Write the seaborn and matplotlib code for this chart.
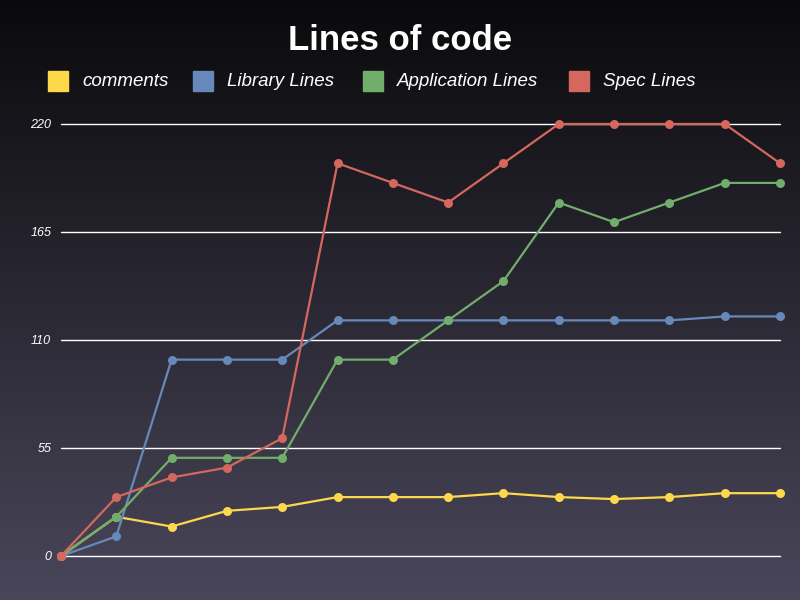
import numpy as np
import pandas as pd
import matplotlib
matplotlib.use("Agg")
import matplotlib.pyplot as plt
import seaborn as sb

sb.set_theme(style="dark")
plt.rcParams["font.family"] = ["Liberation Sans", "DejaVu Sans"]

# data
builds = list(range(14))
comments = [0, 20, 15, 23, 25, 30, 30, 30, 32, 30, 29, 30, 32, 32]
library_lines = [0, 10, 100, 100, 100, 120, 120, 120, 120, 120, 120, 120, 122, 122]
application_lines = [0, 20, 50, 50, 50, 100, 100, 120, 140, 180, 170, 180, 190, 190]
spec_lines = [0, 30, 40, 45, 60, 200, 190, 180, 200, 220, 220, 220, 220, 200]
series_names = ["comments", "Library Lines", "Application Lines", "Spec Lines"]
colors = ["#fdd84b", "#6789b9", "#71ae6b", "#d4685e"]
y_ticks = [0, 55, 110, 165, 220]

df = pd.DataFrame({
    "build": builds * 4,
    "lines": comments + library_lines + application_lines + spec_lines,
    "series": np.repeat(series_names, len(builds)),
})

fig = plt.figure(figsize=(8, 6), dpi=100)

# gradient background
bg = fig.add_axes([0, 0, 1, 1], zorder=-10)
grad = np.linspace(0, 1, 256).reshape(-1, 1)
top = np.array([0x0a, 0x0a, 0x0c]) / 255
bottom = np.array([0x4a, 0x46, 0x5a]) / 255
img = top + (bottom - top) * grad[:, :, None]
bg.imshow(img, aspect="auto", extent=[0, 1, 0, 1])
bg.set_axis_off()

ax = fig.add_axes([61 / 800, 44 / 600, 719 / 800, 432 / 600])
ax.set_facecolor("none")

sb.lineplot(
    data=df, x="build", y="lines", hue="series", hue_order=series_names,
    palette=colors, marker="o", markersize=6.5, markeredgewidth=0,
    linewidth=1.6, legend=False, ax=ax, clip_on=False,
)

ax.set_xlim(0, 13)
ax.set_ylim(0, 220)
ax.set_yticks(y_ticks)
ax.set_yticklabels([str(t) for t in y_ticks], color="white",
                   fontstyle="italic", fontsize=9)
ax.set_xticks([])
ax.tick_params(axis="y", length=0, pad=7)
ax.grid(axis="y", color="white", linewidth=1)
ax.grid(axis="x", visible=False)
for gl in ax.get_ygridlines():
    gl.set_clip_on(False)
ax.set_axisbelow(True)
ax.set_xlabel("")
ax.set_ylabel("")
for s in ax.spines.values():
    s.set_visible(False)

fig.text(0.5, 1 - 40 / 600, "Lines of code", ha="center", va="center",
         color="white", fontsize=25, fontweight="bold")

# legend row
sq_x = [48, 193, 363, 569]
for name, c, x in zip(series_names, colors, sq_x):
    fig.patches.append(plt.Rectangle((x / 800, 1 - 91 / 600), 20 / 800, 20 / 600,
                                     transform=fig.transFigure, color=c))
    fig.text((x + 34) / 800, 1 - 81 / 600, name, ha="left", va="center",
             color="white", fontsize=13.5, fontstyle="italic")

fig.savefig("out.png", dpi=100)
